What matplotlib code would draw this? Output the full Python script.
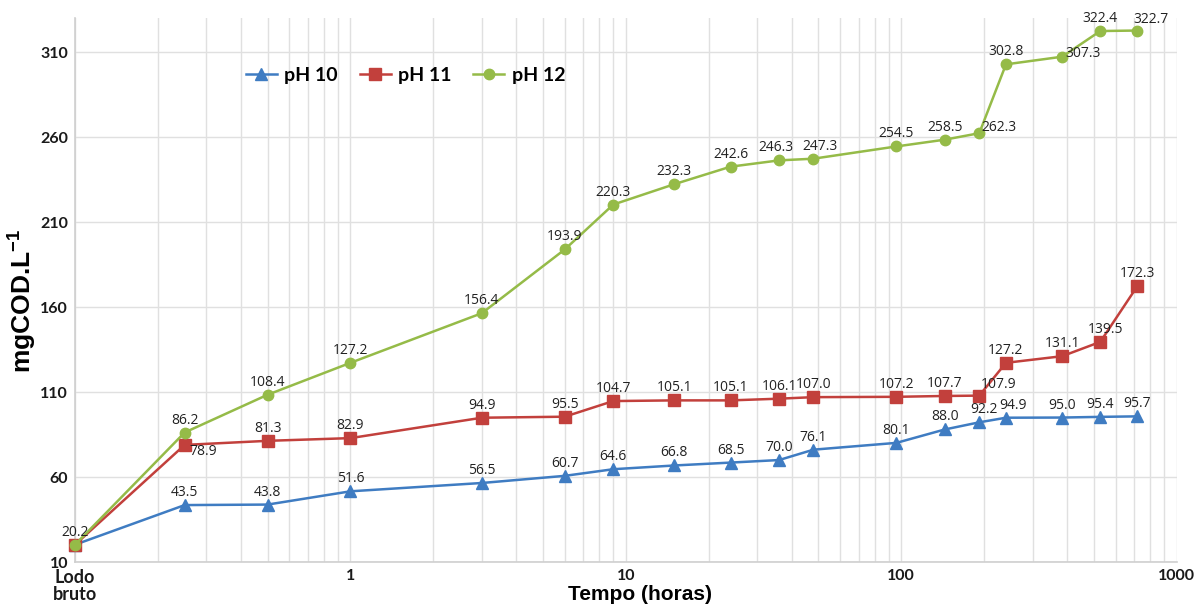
import matplotlib
matplotlib.use("Agg")
import matplotlib.pyplot as plt
from matplotlib.ticker import FixedLocator, LogLocator, NullFormatter

plt.rcParams["mathtext.fontset"] = "custom"
plt.rcParams["mathtext.bf"] = "Liberation Sans:bold"
plt.rcParams["mathtext.rm"] = "Liberation Sans"

hours = [0.1, 0.25, 0.5, 1, 3, 6, 9, 15, 24, 36, 48, 96, 144, 192, 240, 384, 528, 720]
ph10 = [20.2, 43.5, 43.8, 51.6, 56.5, 60.7, 64.6, 66.8, 68.5, 70.0, 76.1, 80.1, 88.0, 92.2, 94.9, 95.0, 95.4, 95.7]
ph11 = [20.2, 78.9, 81.3, 82.9, 94.9, 95.5, 104.7, 105.1, 105.1, 106.1, 107.0, 107.2, 107.7, 107.9, 127.2, 131.1, 139.5, 172.3]
ph12 = [20.2, 86.2, 108.4, 127.2, 156.4, 193.9, 220.3, 232.3, 242.6, 246.3, 247.3, 254.5, 258.5, 262.3, 302.8, 307.3, 322.4, 322.7]
series_names = ["pH 10", "pH 11", "pH 12"]
xtick_vals = [0.1, 1, 10, 100, 1000]
xtick_labels = ["Lodo\nbruto", "1", "10", "100", "1000"]
yticks = [10, 60, 110, 160, 210, 260, 310]

colors = ["#3f7cc2", "#c2403c", "#95bb48"]
markers = ["^", "s", "o"]

# label offsets in points (dx, dy) of the label centre; None = no label
D = (0, 9)
off10 = [None] + [D] * 12 + [(3, 9), (5, 9)] + [D] * 3
off11 = [None, (13, -5)] + [D] * 11 + [(14, 8)] + [D] * 2 + [(4, 9), D]
off12 = [(0, 9)] + [D] * 8 + [(-2, 9), (5, 9)] + [D] * 2 + [(14, 4), D, (15, 2), D, (10, 8)]

fig = plt.figure(figsize=(11.97, 6.04), dpi=100)
ax = fig.add_axes([0.0627, 0.0695, 0.9203, 0.9005])

ax.set_xscale("log")
ax.set_xlim(0.1, 1000)
ax.set_ylim(10, 330)

for vals, name, c, m, offs in zip([ph10, ph11, ph12], series_names, colors, markers, [off10, off11, off12]):
    ax.plot(hours, vals, color=c, marker=m, markersize=8 if m != "o" else 7.5,
            linewidth=1.8, label=name, zorder=3, clip_on=False)
    for x, y, o in zip(hours, vals, offs):
        if o is None:
            continue
        ax.annotate(f"{y:.1f}", (x, y), xytext=o, textcoords="offset points",
                    ha="center", va="center",
                    fontsize=10, family="Open Sans", color="#222222", zorder=4)

ax.xaxis.set_major_locator(FixedLocator(xtick_vals))
ax.set_xticklabels(xtick_labels)
ax.xaxis.set_minor_locator(LogLocator(base=10, subs=range(2, 10)))
ax.xaxis.set_minor_formatter(NullFormatter())
ax.set_yticks(yticks)

ax.grid(True, which="major", axis="both", color="#e0e0e0", linewidth=1.0)
ax.grid(True, which="minor", axis="x", color="#e0e0e0", linewidth=1.0)
ax.set_axisbelow(True)

for s in ["top", "right"]:
    ax.spines[s].set_visible(False)
for s in ["left", "bottom"]:
    ax.spines[s].set_color("#cfcfcf")
    ax.spines[s].set_linewidth(1.2)

ax.tick_params(axis="both", which="both", length=0, pad=5)
for lab in ax.get_xticklabels() + ax.get_yticklabels():
    lab.set_fontweight("bold")
    lab.set_fontsize(11.5)
    lab.set_family("Lato")
    lab.set_color("#1a1a1a")
ax.get_xticklabels()[0].set_fontsize(13)
ax.get_xticklabels()[0].set_linespacing(1.0)

ax.set_xlabel("Tempo (horas)", fontsize=15, fontweight="bold", family="Liberation Sans")
ax.xaxis.set_label_coords(0.513, -0.06)
ax.xaxis.label.set_va("center")
ax.set_ylabel("mgCOD.L$^{\\mathbf{-1}}$", fontsize=19, fontweight="bold", family="Liberation Sans")
ax.yaxis.set_label_coords(-0.049, 0.48)
ax.yaxis.label.set_va("center")

leg = ax.legend(loc="center left", bbox_to_anchor=(0.146, 0.895), ncol=3, frameon=False,
                prop={"family": "Lato", "weight": "bold", "size": 14}, borderpad=0,
                handlelength=1.6, columnspacing=1.1, handletextpad=0.4)

fig.savefig("out.png", dpi=100)
